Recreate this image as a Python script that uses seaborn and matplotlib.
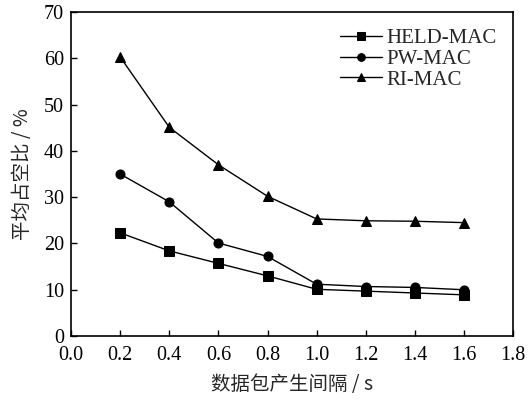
import matplotlib
matplotlib.use("Agg")
import matplotlib.pyplot as plt
import seaborn as sns
import pandas as pd

x = [0.2, 0.4, 0.6, 0.8, 1.0, 1.2, 1.4, 1.6]
held = [22.3, 18.4, 15.7, 13.0, 10.1, 9.7, 9.3, 8.9]
pw = [35.0, 29.0, 20.1, 17.2, 11.2, 10.7, 10.5, 10.0]
ri = [60.3, 45.1, 37.0, 30.2, 25.3, 24.9, 24.8, 24.5]
series = ["HELD-MAC", "PW-MAC", "RI-MAC"]
xticks = [0.0, 0.2, 0.4, 0.6, 0.8, 1.0, 1.2, 1.4, 1.6, 1.8]
yticks = [0, 10, 20, 30, 40, 50, 60, 70]

sns.set_style("ticks")
plt.rcParams['font.family'] = ['Liberation Serif', 'Noto Sans CJK SC']
plt.rcParams['mathtext.fontset'] = 'stix'

df = pd.DataFrame({
    "x": x * 3,
    "y": held + pw + ri,
    "s": [series[0]] * len(x) + [series[1]] * len(x) + [series[2]] * len(x),
})

fig = plt.figure(figsize=(5.32, 4.01), dpi=100)
ax = fig.add_axes([0.1335, 0.162, 0.831, 0.808])
sns.lineplot(data=df, x="x", y="y", hue="s", style="s",
             palette=["black"] * 3, markers=["s", "o", "^"], dashes=False,
             markersize=6.5, linewidth=1.0, markeredgecolor="black", ax=ax)

ax.set_xlim(0, 1.8)
ax.set_ylim(0, 70)
ax.set_xticks(xticks)
ax.set_xticklabels([f"{v:.1f}" for v in xticks])
ax.set_yticks(yticks)
ax.tick_params(direction="in", length=4, width=1, labelsize=14.5, colors="black")
ax.tick_params(axis="x", pad=7)
ax.tick_params(axis="y", pad=5)
for sp in ax.spines.values():
    sp.set_visible(True)
    sp.set_linewidth(1.2)
    sp.set_color("black")
ax.set_xlabel("数据包产生间隔 / s", fontsize=14, labelpad=7,
              family=['Noto Sans CJK SC', 'Liberation Serif'])
ax.set_ylabel("平均占空比 / %", fontsize=14, labelpad=8,
              family=['Noto Sans CJK SC', 'Liberation Serif'])
leg = ax.legend(loc="upper right", frameon=False, fontsize=15, handlelength=2.0,
                handletextpad=0.2, labelspacing=0.05, borderaxespad=0.4,
                markerscale=0.85)
fig.savefig("out.png", dpi=100)
